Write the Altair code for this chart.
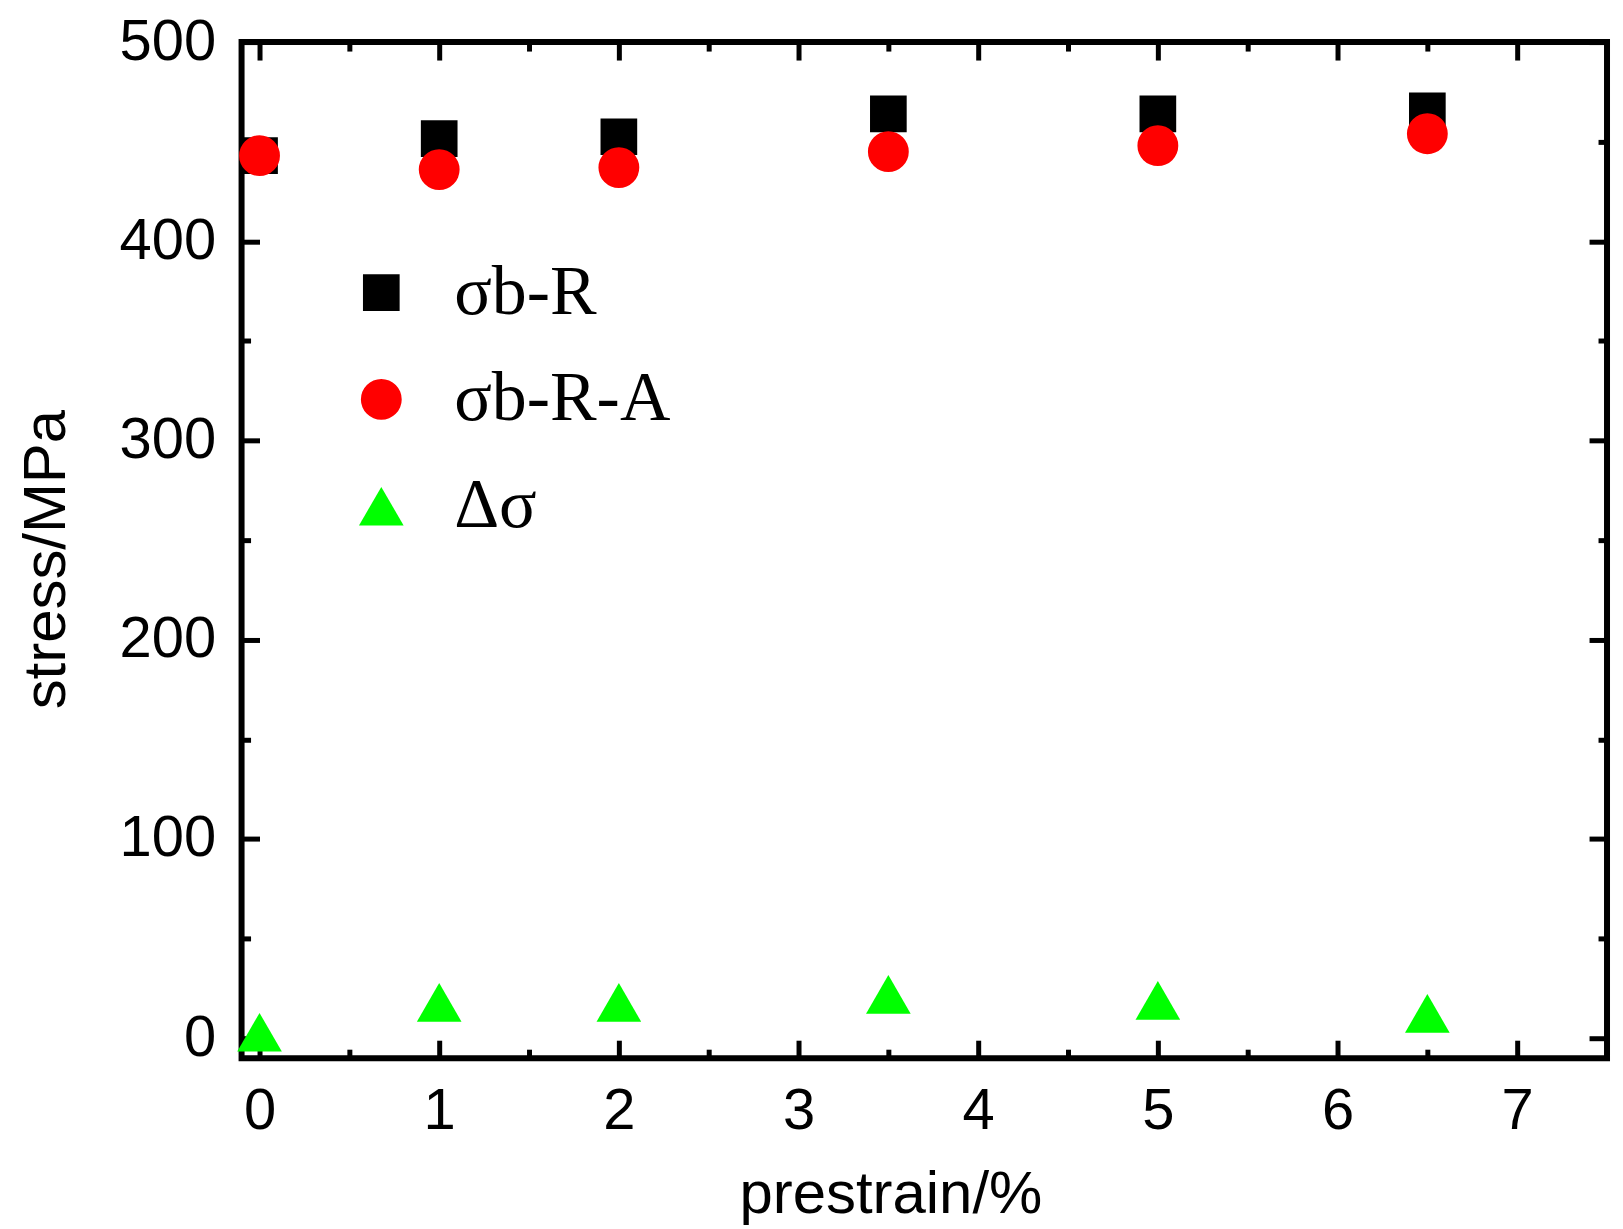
import altair as alt
import pandas as pd

prestrain = [0, 1, 2, 3.5, 5, 6.5]
sigma_bR = [443, 451.5, 452.5, 464, 464, 465.5]
sigma_bRA = [443, 436, 437, 445, 448, 454]
delta_sigma = [3, 18, 18, 22, 19, 12.5]
series_names = ["σb-R", "σb-R-A", "Δσ"]
series_colors = ["#000000", "#ff0000", "#00ff00"]
series_shapes = ["square", "circle", "triangle-up"]
series_sizes = [1350, 2000, 4500]

x_major = [0, 1, 2, 3, 4, 5, 6, 7]
x_minor = [0.5, 1.5, 2.5, 3.5, 4.5, 5.5, 6.5]
y_major = [0, 100, 200, 300, 400, 500]
y_minor = [50, 150, 250, 350, 450]

rows = []
for name, vals in zip(series_names, [sigma_bR, sigma_bRA, delta_sigma]):
    for xv, yv in zip(prestrain, vals):
        rows.append({"x": xv, "v": yv, "series": name})
df = pd.DataFrame(rows)

xs = alt.Scale(domain=[-0.1, 7.5], nice=False, zero=False)
ys = alt.Scale(domain=[-10, 500], nice=False, zero=False)

MAJ = 18
MIN = 9
TW = 5
FONT = "Liberation Sans"


def tick_axis(orient, values, size):
    return alt.Axis(
        orient=orient, values=values, tickSize=size, tickWidth=TW,
        tickColor="black", offset=-size, domain=False, grid=False,
        labels=False, title=None
    )


main = alt.Chart(df).mark_point(filled=True, opacity=1).encode(
    x=alt.X("x:Q", scale=xs, axis=alt.Axis(
        orient="bottom", values=x_major, tickSize=MAJ, tickWidth=TW,
        tickColor="black", offset=-MAJ, domain=False, grid=False,
        format="d", labelFont=FONT, labelFontSize=58, labelColor="black",
        labelPadding=24, title="prestrain/%", titleFont=FONT,
        titleFontSize=60, titleFontWeight="normal", titleColor="black",
        titlePadding=26, titleX=650)),
    y=alt.Y("v:Q", scale=ys, axis=alt.Axis(
        orient="left", values=y_major, tickSize=MAJ, tickWidth=TW,
        tickColor="black", offset=-MAJ, domain=False, grid=False,
        format="d", labelFont=FONT, labelFontSize=58, labelColor="black",
        labelPadding=26, title="stress/MPa", titleFont=FONT,
        titleFontSize=60, titleFontWeight="normal", titleColor="black",
        titlePadding=42, titleY=518)),
    color=alt.Color("series:N", scale=alt.Scale(domain=series_names, range=series_colors),
                    title=None,
                    legend=alt.Legend(orient="none", legendX=105, legendY=216,
                                      labelFont="Liberation Serif", labelFontSize=70,
                                      labelColor="black", labelOffset=38, labelLimit=500,
                                      rowPadding=37, padding=0, symbolStrokeWidth=0)),
    shape=alt.Shape("series:N", scale=alt.Scale(domain=series_names, range=series_shapes),
                    title=None),
    size=alt.Size("series:N", scale=alt.Scale(domain=series_names, range=series_sizes),
                  title=None),
    order=alt.Order("o:Q"),
).transform_calculate(o="indexof(['σb-R','σb-R-A','Δσ'], datum.series)")


def ghost(xaxis, yaxis):
    return alt.Chart(df).mark_point(opacity=0).encode(
        x=alt.X("x:Q", scale=xs, axis=xaxis),
        y=alt.Y("v:Q", scale=ys, axis=yaxis),
    )


g1 = ghost(tick_axis("bottom", x_minor, MIN), tick_axis("left", y_minor, MIN))
g2 = ghost(tick_axis("top", x_major, MAJ), tick_axis("right", y_major, MAJ))
g3 = ghost(tick_axis("top", x_minor, MIN), tick_axis("right", y_minor, MIN))

chart = alt.layer(g1, g2, g3, main).resolve_axis(
    x="independent", y="independent"
).properties(
    width=1368, height=1018,
    background="white",
    autosize=alt.AutoSizeParams(type="none"),
    padding={"left": 234, "top": 33, "right": 8, "bottom": 170},
).configure_view(stroke="black", strokeWidth=6)

chart.save("out.html", embed_options={"renderer": "svg", "actions": False})
